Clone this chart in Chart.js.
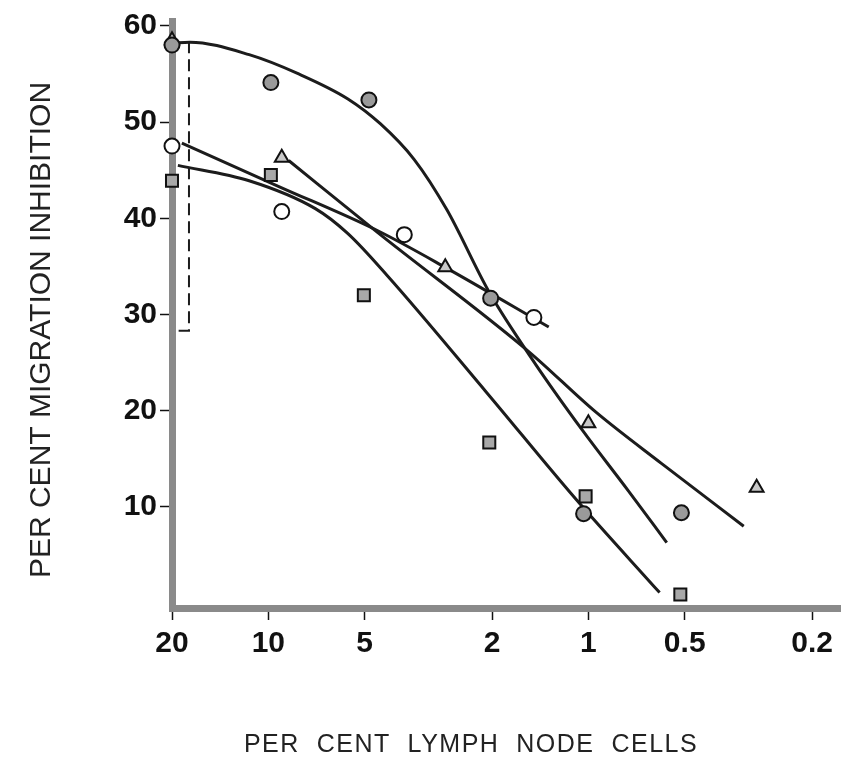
<!DOCTYPE html>
<html>
<head>
<meta charset="utf-8">
<script src="https://cdn.jsdelivr.net/npm/chart.js@4.4.1/dist/chart.umd.min.js"></script>
<style>
  html, body { margin: 0; padding: 0; background: #fff; }
  #wrap { width: 851px; height: 771px; }
</style>
</head>
<body>
<div id="wrap"><canvas id="myChart"></canvas></div>
<script>
const xTicks = [20, 10, 5, 2, 1, 0.5, 0.2];
const yTicks = [10, 20, 30, 40, 50, 60];

// plotted symbols (per cent lymph node cells, per cent inhibition)
const filledX = [20, 9.82, 4.85, 2.02, 1.035, 0.512];
const filledY = [58.0, 54.1, 52.3, 31.7, 9.3, 9.4];
const openX = [20, 9.08, 3.76, 1.48];
const openY = [47.5, 40.7, 38.3, 29.7];
const squareX = [20, 9.82, 5.03, 2.04, 1.02, 0.516];
const squareY = [43.9, 44.5, 32.0, 16.7, 11.1, 0.9];
const triX = [20, 9.08, 2.80, 1.0, 0.298];
const triY = [58.5, 46.3, 34.9, 18.7, 12.0];

// hand drawn curves
const curveAX = [20, 17.6, 11.48, 8.04, 5.64, 4.46, 3.50, 2.77, 2.04, 1.46, 1.04, 0.751, 0.569];
const curveAY = [58.2, 58.3, 57.0, 55.0, 52.4, 49.8, 46.1, 40.9, 32.3, 24.8, 17.9, 11.7, 6.3];
const curveBX = [18.63, 9.27, 4.55, 2.80, 1.33];
const curveBY = [47.8, 43.3, 38.7, 34.9, 28.7];
const curveCX = [19.17, 11.48, 7.13, 5.64, 4.24, 2.08, 1.10, 0.599];
const curveCY = [45.5, 43.9, 41.0, 38.4, 34.0, 21.9, 10.9, 1.1];
const curveDX = [8.64, 4.55, 1.53, 0.951, 0.590, 0.327];
const curveDY = [46.0, 38.5, 26.1, 19.9, 14.5, 8.0];
const bracketX = [17.7, 17.7, 19.2];
const bracketY = [58.4, 28.3, 28.3];

const pts = (xs, ys) => xs.map((x, i) => ({ x: x, y: ys[i] }));
const fontFamily = "'Liberation Sans', Arial, sans-serif";

function curve(xs, ys) {
    return {
        data: pts(xs, ys),
        borderColor: '#1c1c1c',
        borderWidth: 3,
        pointRadius: 0,
        cubicInterpolationMode: 'monotone',
        clip: false,
        order: 2
    };
}

function marks(xs, ys, style, radius, fill) {
    return {
        data: pts(xs, ys),
        showLine: false,
        pointStyle: style,
        pointRadius: radius,
        pointBackgroundColor: fill,
        pointBorderColor: '#111',
        pointBorderWidth: 2,
        clip: false,
        order: 1
    };
}

const axisTitles = {
    id: 'axisTitles',
    afterDraw(chart) {
        const ctx = chart.ctx;
        ctx.save();
        ctx.fillStyle = '#222';
        ctx.textAlign = 'center';
        ctx.textBaseline = 'middle';
        ctx.font = '30px ' + fontFamily;
        ctx.translate(42, 330);
        ctx.rotate(-Math.PI / 2);
        ctx.fillText('PER CENT MIGRATION INHIBITION', 0, 0);
        ctx.restore();

        ctx.save();
        ctx.fillStyle = '#222';
        ctx.textAlign = 'center';
        ctx.textBaseline = 'middle';
        ctx.font = '25px ' + fontFamily;
        if ('letterSpacing' in ctx) ctx.letterSpacing = '1.5px';
        ctx.fillText('PER  CENT  LYMPH  NODE  CELLS', 471, 745);
        ctx.restore();
    }
};

const ctx = document.getElementById('myChart');
const myChart = new Chart(ctx, {
    type: 'line',
    data: {
        datasets: [
            curve(curveAX, curveAY),
            curve(curveBX, curveBY),
            curve(curveCX, curveCY),
            curve(curveDX, curveDY),
            {
                data: pts(bracketX, bracketY),
                borderColor: '#1c1c1c',
                borderWidth: 2,
                borderDash: [12, 6],
                pointRadius: 0,
                tension: 0,
                clip: false,
                order: 2
            },
            marks(filledX, filledY, 'circle', 7.5, '#9a9a9a'),
            marks(openX, openY, 'circle', 7.5, '#ffffff'),
            marks(squareX, squareY, 'rect', 8.5, '#a8a8a8'),
            marks(triX, triY, 'triangle', 8, '#c8c8c8')
        ]
    },
    options: {
        responsive: true,
        maintainAspectRatio: false,
        animation: false,
        layout: { padding: { top: 17, right: 3, left: 0, bottom: 0 } },
        plugins: {
            legend: { display: false },
            tooltip: { enabled: false }
        },
        scales: {
            x: {
                type: 'logarithmic',
                reverse: true,
                min: 0.163,
                max: 20,
                afterBuildTicks: s => { s.ticks = xTicks.map(v => ({ value: v })); },
                afterFit: s => { s.height = 163; },
                ticks: {
                    autoSkip: false,
                    maxRotation: 0,
                    padding: 6,
                    color: '#111',
                    font: { family: fontFamily, size: 30, weight: 'bold' },
                    callback: v => String(v)
                },
                grid: { drawOnChartArea: false, drawTicks: true, tickLength: 12, tickColor: '#111', tickWidth: 1.5 },
                border: { display: true, color: '#8a8a8a', width: 7 }
            },
            y: {
                type: 'linear',
                min: -0.5,
                max: 60.5,
                afterBuildTicks: s => { s.ticks = yTicks.map(v => ({ value: v })); },
                afterFit: s => { s.width = 172; },
                ticks: {
                    padding: 3,
                    color: '#111',
                    font: { family: fontFamily, size: 30, weight: 'bold' }
                },
                grid: { drawOnChartArea: false, drawTicks: true, tickLength: 12, tickColor: '#111', tickWidth: 1.5 },
                border: { display: true, color: '#8a8a8a', width: 7 }
            }
        }
    },
    plugins: [axisTitles]
});
</script>
</body>
</html>
